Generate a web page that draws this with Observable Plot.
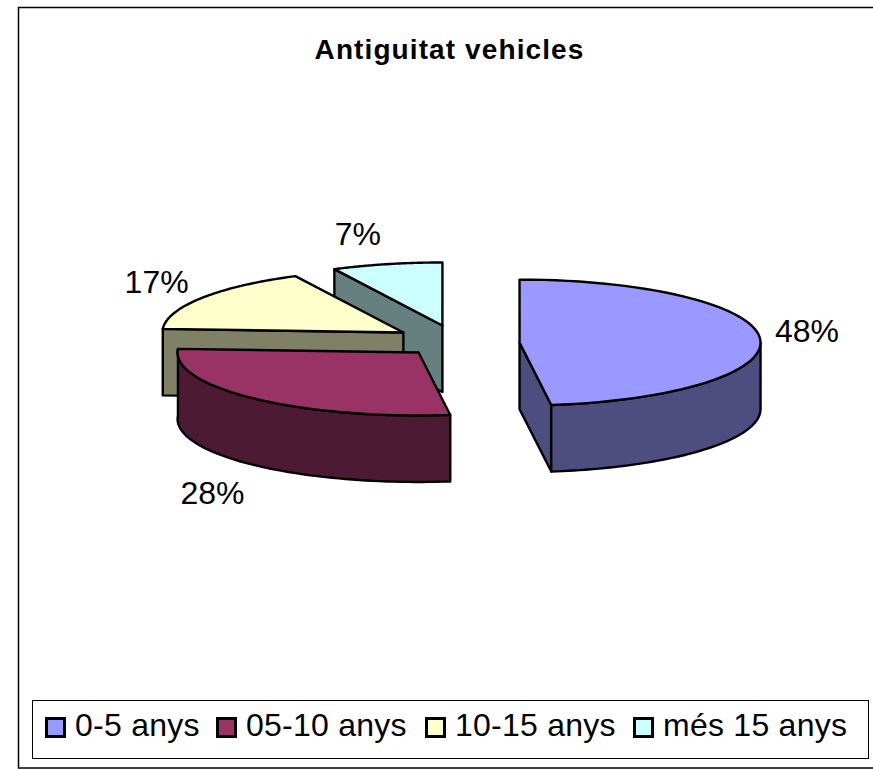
<!DOCTYPE html>
<html>
<head>
<meta charset="utf-8">
<script src="https://cdn.jsdelivr.net/npm/d3@7"></script>
<script src="https://cdn.jsdelivr.net/npm/@observablehq/plot@0.6"></script>
<style>
  html, body { margin: 0; padding: 0; background: #fff; overflow: hidden; }
  #chart { position: relative; width: 873px; height: 770px; font-family: "Liberation Sans", Arial, sans-serif; }
  #chart svg { display: block; position: absolute; left: 0; top: 0; }
  #legend { position: absolute; left: 32px; top: 700px; width: 837px; height: 59px; box-sizing: border-box;
    border: 1px solid #000; background: #fff; font-size: 32px; letter-spacing: 0.25px; color: #000; white-space: nowrap; }
  .entry { position: absolute; top: 0; height: 57px; line-height: 49px; display: block; }
  .swatch { position: absolute; left: 0; top: 16px; width: 21px; height: 21px; box-sizing: border-box; border: 3px solid #000; }
  .entry span { position: absolute; top: 0; }
</style>
</head>
<body>
<div id="chart"></div>
<script>
// Data
const chartTitle = "Antiguitat vehicles";
const categories = ["0-5 anys", "05-10 anys", "10-15 anys", "més 15 anys"];
const shares = [47.9, 28, 16.7, 7.4];
const topColors = ["#9999FF", "#993366", "#FFFFCC", "#CCFFFF"];

// Pie geometry, in units of the pie radius
const tilt = 63 / 241;
const depth = 66.5 / 241;
const unit = 241;                // px per radius
const centre = [440, 338];       // px position of the unexploded pie centre
const explodeX = [0.328, -0.091, -0.154, 0.008];
const explodeY = [0.017, 0.058, -0.025, -0.054];
const labelRadius = [1.195, 1.258, 1.225, 1.524];
const labelDrop = [-0.025, 0.345, -0.03, 0.012];

const total = d3.sum(shares);
const ends = Array.from(d3.cumsum(shares), c => c / total * 2 * Math.PI);
const starts = ends.map((e, i) => i ? ends[i - 1] : 0);

const rim = (i, a) => ({x: explodeX[i] + Math.sin(a), y: explodeY[i] - Math.cos(a) * tilt});
const apex = i => ({x: explodeX[i], y: explodeY[i]});
const drop = p => ({x: p.x, y: p.y + depth});
const arc = (i, a0, a1) => d3.range(61).map(k => rim(i, a0 + (a1 - a0) * k / 60));
const closed = pts => [...pts, pts[0]];
const shade = c => { const r = d3.rgb(c); return d3.rgb(r.r / 2, r.g / 2, r.b / 2).formatHex(); };

const faces = [];
const addFace = (pts, fill) => faces.push({pts: closed(pts), fill});
const radialWall = (i, a) => { // wall from the centre to the rim at angle a
  const A = apex(i), R = rim(i, a);
  addFace([A, R, drop(R), drop(A)], shade(topColors[i]));
};
const outerWall = (i, a0, a1) => {
  const t = arc(i, a0, a1);
  addFace([...t, ...t.slice().reverse().map(drop)], shade(topColors[i]));
};
const topFace = i => addFace([apex(i), ...arc(i, starts[i], ends[i])], topColors[i]);

// painter's order: back to front
radialWall(3, starts[3]); topFace(3);
radialWall(2, starts[2]); topFace(2);
outerWall(1, starts[1], ends[1]); topFace(1);
radialWall(0, ends[0]); outerWall(0, Math.PI / 2, ends[0]); topFace(0);

const labels = shares.map((s, i) => {
  const mid = (starts[i] + ends[i]) / 2;
  return {
    text: Math.round(s) + "%",
    x: explodeX[i] + labelRadius[i] * Math.sin(mid),
    y: explodeY[i] - labelRadius[i] * Math.cos(mid) * tilt + labelDrop[i]
  };
});

const W = 873, H = 770;
const plot = Plot.plot({
  width: W, height: H, margin: 0,
  x: {domain: [-centre[0] / unit, (W - centre[0]) / unit], range: [0, W], axis: null},
  y: {domain: [-centre[1] / unit, (H - centre[1]) / unit], range: [0, H], axis: null},
  style: {background: "#fff", fontFamily: '"Liberation Sans", Arial, sans-serif'},
  marks: [
    Plot.rect([0], {
      x1: (18.5 - centre[0]) / unit, x2: (W + 20 - centre[0]) / unit,
      y1: (7.5 - centre[1]) / unit, y2: (768 - centre[1]) / unit,
      fill: "#fff", stroke: "#000", strokeWidth: 1.5, clip: "frame"
    }),
    ...faces.map(f => Plot.line(f.pts, {
      x: "x", y: "y", fill: f.fill, stroke: "#000", strokeWidth: 2.4, strokeLinejoin: "round", curve: "linear"
    })),
    Plot.text(labels, {x: "x", y: "y", text: "text", fontSize: 32, fill: "#000", textAnchor: "middle", lineAnchor: "middle"}),
    Plot.text([chartTitle], {frameAnchor: "top-left", dx: 449, dy: 50, text: d => d, fontSize: 28, fontWeight: "bold", fill: "#000", textAnchor: "middle", lineAnchor: "middle"})
  ]
});

// the reference's title is set slightly wider than the font's natural spacing
plot.querySelectorAll("text").forEach(t => {
  if (t.textContent === chartTitle) t.style.letterSpacing = "1.1px";
});

const chart = document.getElementById("chart");
chart.appendChild(plot);

// Legend
const legend = document.createElement("div");
legend.id = "legend";
const swatchLeft = [12, 183, 392, 600];
categories.forEach((c, i) => {
  const e = document.createElement("div");
  e.className = "entry";
  e.style.left = swatchLeft[i] + "px";
  const s = document.createElement("div");
  s.className = "swatch";
  s.style.background = topColors[i];
  const t = document.createElement("span");
  t.style.left = "30px";
  t.textContent = c;
  e.append(s, t);
  legend.appendChild(e);
});
chart.appendChild(legend);
</script>
</body>
</html>
